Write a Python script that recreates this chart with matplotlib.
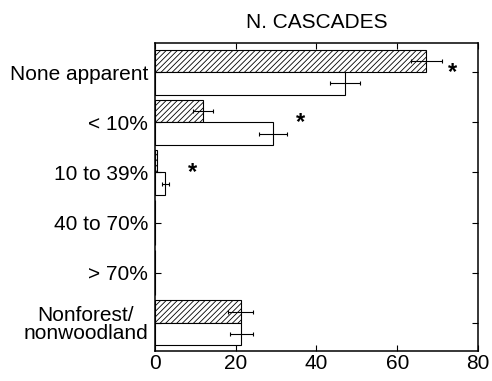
import numpy as np
import matplotlib
matplotlib.use('Agg')
import matplotlib.pyplot as plt

plt.rcParams['font.family'] = ['Liberation Sans', 'DejaVu Sans']
plt.rcParams['hatch.linewidth'] = 0.6

categories = ['None apparent', '< 10%', '10 to 39%', '40 to 70%', '> 70%',
              'Nonforest/\nnonwoodland']
hatched_vals = [67.2, 11.8, 0.4, 0.0, 0.0, 21.3]
hatched_err = [3.8, 2.5, 0.0, 0.0, 0.0, 3.1]
open_vals = [47.1, 29.2, 2.6, 0.0, 0.0, 21.4]
open_err = [3.8, 3.4, 0.9, 0.0, 0.0, 2.9]
star_x = [73.7, 36.0, 9.3]
star_cat = [0, 1, 2]

fig = plt.figure(figsize=(4.92, 3.81), dpi=100)
ax = fig.add_axes([0.315, 0.079, 0.6565, 0.808])

y = np.arange(len(categories))
h = 0.45
ax.barh(y - h / 2, hatched_vals, height=h, color='white', edgecolor='black',
        hatch='//////', linewidth=0.8)
ax.barh(y + h / 2, open_vals, height=h, color='white', edgecolor='black',
        linewidth=0.8)
for i in range(len(categories)):
    if hatched_err[i] > 0:
        ax.errorbar(hatched_vals[i], y[i] - h / 2, xerr=hatched_err[i], fmt='none',
                    ecolor='black', elinewidth=0.8, capsize=1.5, capthick=0.8)
    if open_err[i] > 0:
        ax.errorbar(open_vals[i], y[i] + h / 2, xerr=open_err[i], fmt='none',
                    ecolor='black', elinewidth=0.8, capsize=1.5, capthick=0.8)

for sx, c in zip(star_x, star_cat):
    ax.text(sx, c + 0.0, '*', fontsize=17, fontweight='bold', ha='center', va='center')

ax.set_xlim(0, 80)
ax.set_ylim(5.56, -0.58)
ax.set_xticks([0, 20, 40, 60, 80])
ax.set_yticks(y)
ax.set_yticklabels(categories, fontsize=15, linespacing=0.95, multialignment='center')
ax.tick_params(axis='x', labelsize=15, direction='in', top=True, length=4, pad=2)
ax.tick_params(axis='y', direction='in', right=True, length=4, pad=5)
for s in ax.spines.values():
    s.set_linewidth(1.1)
ax.set_title('N. CASCADES', fontsize=15, pad=11)

fig.savefig('out.png', dpi=100)
